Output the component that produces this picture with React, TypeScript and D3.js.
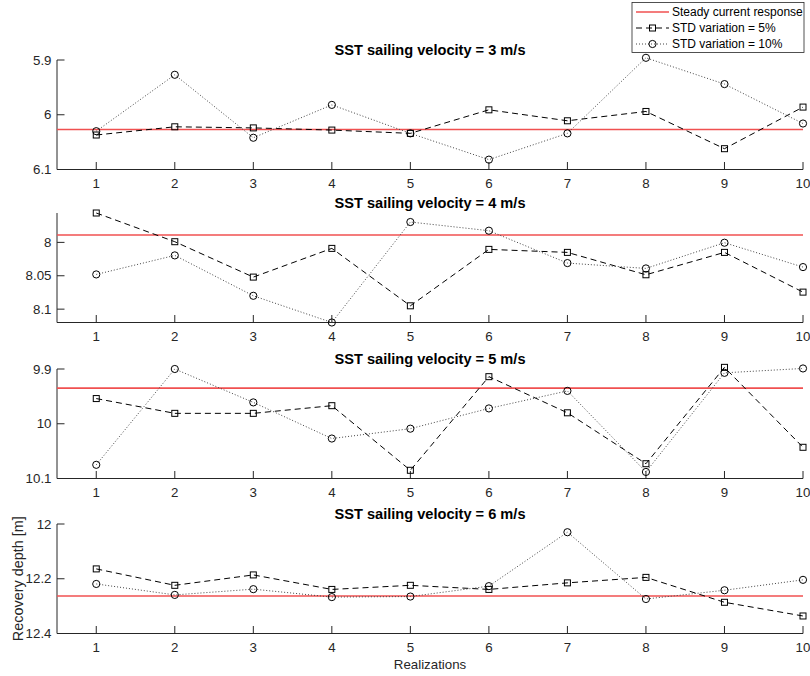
import React from "react";
import * as d3 from "d3";

const realizations = [1, 2, 3, 4, 5, 6, 7, 8, 9, 10];
const xTicks = [1, 2, 3, 4, 5, 6, 7, 8, 9, 10];

const titles = [
  "SST sailing velocity = 3 m/s",
  "SST sailing velocity = 4 m/s",
  "SST sailing velocity = 5 m/s",
  "SST sailing velocity = 6 m/s",
];

const steady = [6.027, 7.989, 9.935, 12.263];

const std5_v3 = [6.037, 6.022, 6.024, 6.028, 6.034, 5.991, 6.011, 5.994, 6.062, 5.986];
const std10_v3 = [6.03, 5.927, 6.042, 5.982, 6.034, 6.082, 6.034, 5.896, 5.944, 6.016];

const std5_v4 = [7.956, 7.999, 8.052, 8.009, 8.095, 8.0105, 8.015, 8.0485, 8.015, 8.0745];
const std10_v4 = [8.048, 8.0195, 8.08, 8.12, 7.9695, 7.9825, 8.031, 8.039, 8.0005, 8.037];

const std5_v5 = [9.954, 9.981, 9.981, 9.967, 10.085, 9.914, 9.98, 10.073, 9.897, 10.043];
const std10_v5 = [10.075, 9.9, 9.961, 10.027, 10.009, 9.972, 9.94, 10.088, 9.907, 9.899];

const std5_v6 = [12.164, 12.224, 12.186, 12.239, 12.224, 12.239, 12.215, 12.195, 12.286, 12.336];
const std10_v6 = [12.219, 12.259, 12.238, 12.267, 12.265, 12.227, 12.03, 12.274, 12.242, 12.204];

const std5 = [std5_v3, std5_v4, std5_v5, std5_v6];
const std10 = [std10_v3, std10_v4, std10_v5, std10_v6];

const yDomains: [number, number][] = [
  [5.9, 6.1],
  [7.956, 8.12],
  [9.9, 10.1],
  [12, 12.4],
];
const yTicks = [
  [5.9, 6, 6.1],
  [8, 8.05, 8.1],
  [9.9, 10, 10.1],
  [12, 12.2, 12.4],
];
const yTickLabels = [
  ["5.9", "6", "6.1"],
  ["8", "8.05", "8.1"],
  ["9.9", "10", "10.1"],
  ["12", "12.2", "12.4"],
];

const legendLabels = ["Steady current response", "STD variation = 5%", "STD variation = 10%"];

const W = 810;
const H = 676;
const axLeft = 57;
const axRight = 803;
const axTops = [60, 213, 369, 524];
const axH = 109.5;
const FONT = "'Liberation Sans', Arial, Helvetica, sans-serif";
const AXC = "#262626";
const RED = "#f05050";

const x = d3.scaleLinear().domain([0.5, 10]).range([axLeft, axRight]);

function Square({ cx, cy }: { cx: number; cy: number }) {
  return <rect x={cx - 3} y={cy - 3} width={6} height={6} fill="none" stroke="#000" strokeWidth={1} />;
}
function Circle({ cx, cy }: { cx: number; cy: number }) {
  return <circle cx={cx} cy={cy} r={3.6} fill="none" stroke="#000" strokeWidth={1} />;
}

function Panel({ i }: { i: number }) {
  const top = axTops[i];
  const bottom = top + axH;
  const y = d3.scaleLinear().domain(yDomains[i]).range([top, bottom]);
  const line = d3
    .line<number>()
    .x((_, k) => x(realizations[k]))
    .y((d) => y(d));
  const tickLen = 7.5;
  return (
    <g>
      <text
        x={(axLeft + axRight) / 2}
        y={top - 5}
        textAnchor="middle"
        fontFamily={FONT}
        fontWeight="bold"
        fontSize={14.6}
        fill="#000"
      >
        {titles[i]}
      </text>
      <line x1={axLeft} x2={axLeft} y1={top} y2={bottom} stroke={AXC} strokeWidth={1} />
      <line x1={axLeft} x2={axRight} y1={bottom} y2={bottom} stroke={AXC} strokeWidth={1} />
      {xTicks.map((t) => (
        <g key={"xt" + t}>
          <line x1={x(t)} x2={x(t)} y1={bottom} y2={bottom - tickLen} stroke={AXC} strokeWidth={1} />
          <text x={x(t)} y={bottom + 18.5} textAnchor="middle" fontFamily={FONT} fontSize={13.3} fill={AXC}>
            {t}
          </text>
        </g>
      ))}
      {yTicks[i].map((t, k) => (
        <g key={"yt" + k}>
          <line x1={axLeft} x2={axLeft + tickLen} y1={y(t)} y2={y(t)} stroke={AXC} strokeWidth={1} />
          <text x={51.5} y={y(t) + 4.6} textAnchor="end" fontFamily={FONT} fontSize={13.3} fill={AXC}>
            {yTickLabels[i][k]}
          </text>
        </g>
      ))}
      <line x1={axLeft} x2={axRight} y1={y(steady[i])} y2={y(steady[i])} stroke={RED} strokeWidth={1.6} />
      <path d={line(std5[i]) || ""} fill="none" stroke="#000" strokeWidth={1} strokeDasharray="6,4" />
      {std5[i].map((v, k) => (
        <Square key={"s" + k} cx={x(realizations[k])} cy={y(v)} />
      ))}
      <path d={line(std10[i]) || ""} fill="none" stroke="#444" strokeWidth={1} strokeDasharray="1,2" />
      {std10[i].map((v, k) => (
        <Circle key={"c" + k} cx={x(realizations[k])} cy={y(v)} />
      ))}
    </g>
  );
}

function Legend() {
  const lx = 632;
  const ly = 2.5;
  const lw = 172;
  const lh = 50;
  const rows = [12, 28, 44];
  const s1 = 636;
  const s2 = 669;
  const mid = (s1 + s2) / 2;
  return (
    <g>
      <rect x={lx} y={ly} width={lw} height={lh} fill="#fff" stroke={AXC} strokeWidth={0.8} />
      <line x1={s1} x2={s2} y1={rows[0]} y2={rows[0]} stroke={RED} strokeWidth={1.6} />
      <line x1={s1} x2={s2} y1={rows[1]} y2={rows[1]} stroke="#000" strokeWidth={1} strokeDasharray="6,4" />
      <Square cx={mid} cy={rows[1]} />
      <line x1={s1} x2={s2} y1={rows[2]} y2={rows[2]} stroke="#444" strokeWidth={1} strokeDasharray="1,2" />
      <Circle cx={mid} cy={rows[2]} />
      {legendLabels.map((l, k) => (
        <text key={l} x={672} y={rows[k] + 4.2} fontFamily={FONT} fontSize={12} fill="#000">
          {l}
        </text>
      ))}
    </g>
  );
}

export default function App() {
  return (
    <svg
      width={W}
      height={H}
      viewBox={`0 0 ${W} ${H}`}
      style={{ position: "absolute", left: 0, top: 0, background: "#fff" }}
    >
      <rect x={0} y={0} width={W} height={H} fill="#fff" />
      {[0, 1, 2, 3].map((i) => (
        <Panel key={i} i={i} />
      ))}
      <text
        x={(axLeft + axRight) / 2}
        y={668.5}
        textAnchor="middle"
        fontFamily={FONT}
        fontSize={13.3}
        fill={AXC}
      >
        Realizations
      </text>
      <text
        transform={`translate(22.5,${axTops[3] + axH / 2}) rotate(-90)`}
        textAnchor="middle"
        fontFamily={FONT}
        fontSize={14.4}
        fill={AXC}
      >
        Recovery depth [m]
      </text>
      <Legend />
    </svg>
  );
}
